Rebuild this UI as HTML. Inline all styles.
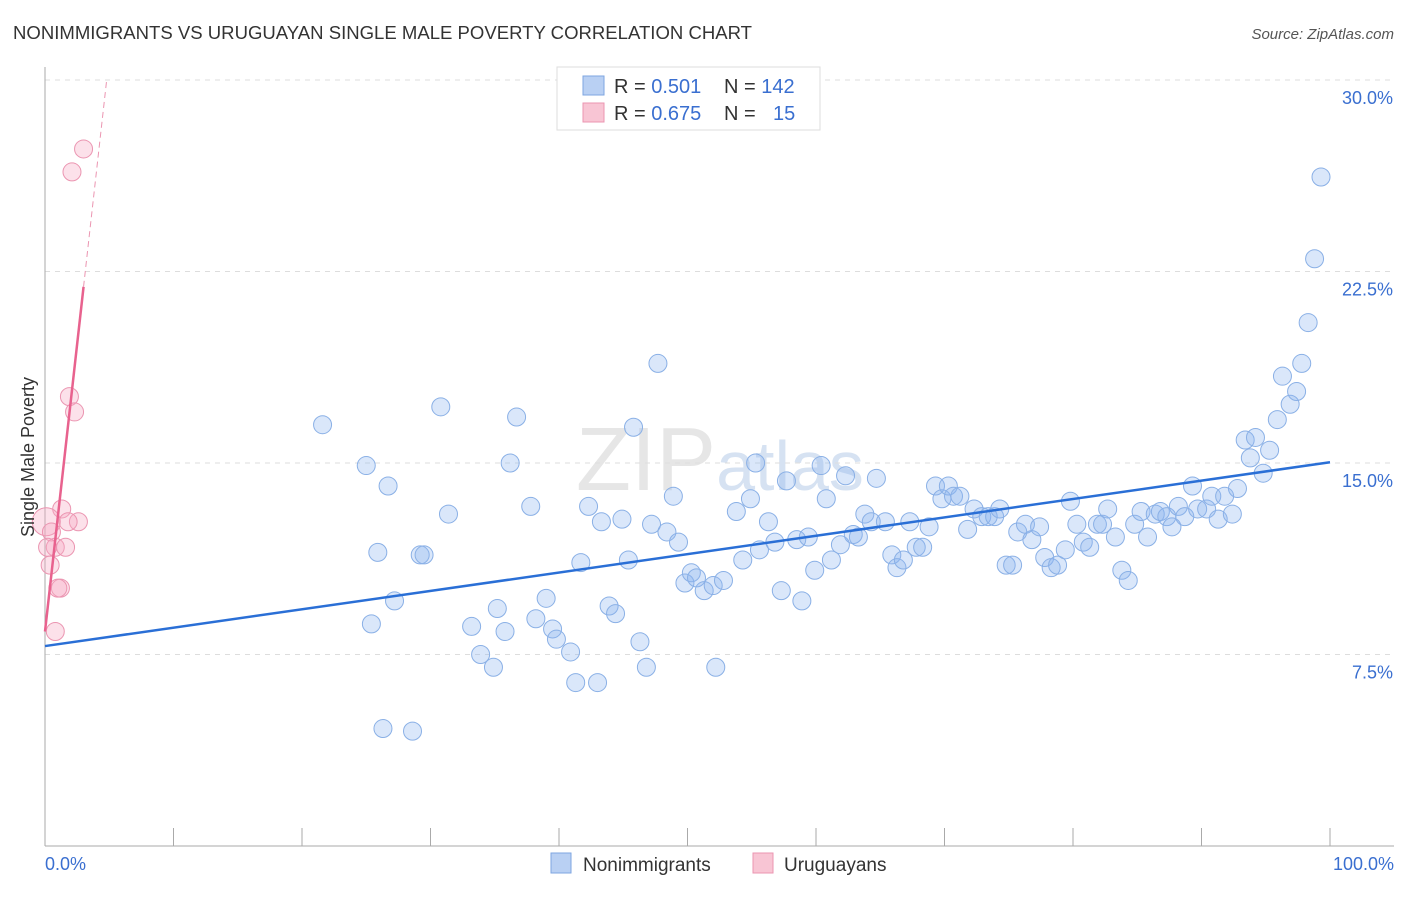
<!DOCTYPE html>
<html><head><meta charset="utf-8"><style>
body{margin:0;background:#fff;font-family:"Liberation Sans",sans-serif;}
svg text{font-family:"Liberation Sans",sans-serif;}
</style></head><body>
<svg id="chart" width="1406" height="892" xmlns="http://www.w3.org/2000/svg">
<text x="13" y="39" font-size="18" fill="#333" textLength="739" lengthAdjust="spacingAndGlyphs">NONIMMIGRANTS VS URUGUAYAN SINGLE MALE POVERTY CORRELATION CHART</text>
<text x="1394" y="39" font-size="15" fill="#555" text-anchor="end" font-style="italic">Source: ZipAtlas.com</text>
<text x="720" y="490" font-size="90" fill="#e6e6e6" font-family="Liberation Serif" text-anchor="middle">ZIP<tspan font-size="70" fill="#d6e2f2" font-family="Liberation Sans">atlas</tspan></text>
<g id="grid"></g><g id="axes"></g><g id="marks"></g>
<text transform="translate(34,457) rotate(-90)" font-size="18" fill="#333" text-anchor="middle">Single Male Poverty</text>
<text x="45" y="870" font-size="18" fill="#3a6fd0">0.0%</text>
<text x="1394" y="870" font-size="18" fill="#3a6fd0" text-anchor="end">100.0%</text>
<g>
<rect x="557" y="67" width="263" height="63" fill="#fff" stroke="#ddd"/>
<rect x="583" y="76" width="21" height="19" fill="#b9d0f3" stroke="#7ea6e0"/>
<rect x="583" y="103" width="21" height="19" fill="#f8c5d4" stroke="#eb95b1"/>
<text x="614" y="93" font-size="20" fill="#333">R = <tspan fill="#3a6fd0">0.501</tspan><tspan x="724">N = </tspan><tspan fill="#3a6fd0">142</tspan></text>
<text x="614" y="120" font-size="20" fill="#333">R = <tspan fill="#3a6fd0">0.675</tspan><tspan x="724">N = </tspan><tspan x="773" fill="#3a6fd0">15</tspan></text>
</g>
<g>
<rect x="551" y="853" width="20" height="20" fill="#b9d0f3" stroke="#7ea6e0"/>
<text x="583" y="871" font-size="19" fill="#333">Nonimmigrants</text>
<rect x="753" y="853" width="20" height="20" fill="#f8c5d4" stroke="#eb95b1"/>
<text x="784" y="871" font-size="19" fill="#333">Uruguayans</text>
</g>
</svg>
<script>
const yTicks=[7.5,15,22.5,30];
const yTickLabels=["7.5%","15.0%","22.5%","30.0%"];
const blueX=[21.6,25.0,25.9,26.7,25.4,26.3,28.6,27.2,29.2,29.5,30.8,31.4,33.2,33.9,34.9,35.2,35.8,36.2,36.7,37.8,38.2,39.0,39.5,39.8,40.9,41.3,41.7,42.3,43.0,43.3,43.9,44.4,44.9,45.4,45.8,46.3,46.8,47.2,47.7,48.4,48.9,49.3,49.8,50.3,50.7,51.3,52.0,52.2,52.8,53.8,54.3,54.9,55.3,55.6,56.3,56.8,57.3,57.7,58.5,58.9,59.4,59.9,60.4,60.8,61.2,61.9,62.3,62.9,63.3,63.8,64.3,64.7,65.4,65.9,66.3,66.8,67.3,67.8,68.3,68.8,69.3,69.8,70.3,70.7,71.2,71.8,72.3,72.9,73.4,73.9,74.3,74.8,75.3,75.7,76.3,76.8,77.4,77.8,78.3,78.8,79.4,79.8,80.3,80.8,81.3,81.9,82.3,82.7,83.3,83.8,84.3,84.8,85.3,85.8,86.4,86.8,87.3,87.7,88.2,88.7,89.3,89.7,90.4,90.8,91.3,91.8,92.4,92.8,93.4,93.8,94.2,94.8,95.3,95.9,96.3,96.9,97.4,97.8,98.3,98.8,99.3];
const blueY=[16.5,14.9,11.5,14.1,8.7,4.6,4.5,9.6,11.4,11.4,17.2,13.0,8.6,7.5,7.0,9.3,8.4,15.0,16.8,13.3,8.9,9.7,8.5,8.1,7.6,6.4,11.1,13.3,6.4,12.7,9.4,9.1,12.8,11.2,16.4,8.0,7.0,12.6,18.9,12.3,13.7,11.9,10.3,10.7,10.5,10.0,10.2,7.0,10.4,13.1,11.2,13.6,15.0,11.6,12.7,11.9,10.0,14.3,12.0,9.6,12.1,10.8,14.9,13.6,11.2,11.8,14.5,12.2,12.1,13.0,12.7,14.4,12.7,11.4,10.9,11.2,12.7,11.7,11.7,12.5,14.1,13.6,14.1,13.7,13.7,12.4,13.2,12.9,12.9,12.9,13.2,11.0,11.0,12.3,12.6,12.0,12.5,11.3,10.9,11.0,11.6,13.5,12.6,11.9,11.7,12.6,12.6,13.2,12.1,10.8,10.4,12.6,13.1,12.1,13.0,13.1,12.9,12.5,13.3,12.9,14.1,13.2,13.2,13.7,12.8,13.7,13.0,14.0,15.9,15.2,16.0,14.6,15.5,16.7,18.4,17.3,17.8,18.9,20.5,23.0,26.2];
const pinkX=[3.0,2.1,1.9,2.3,1.3,2.6,1.8,0.1,0.5,0.8,1.6,0.2,0.4,1.2,1.0,0.8];
const pinkY=[27.3,26.4,17.6,17.0,13.2,12.7,12.7,12.7,12.3,11.7,11.7,11.7,11.0,10.1,10.1,8.4];
const blueTrend=[7.83,15.03];
const pinkTrend=[8.4,21.9];
const pinkTrendEndX=3.0;
const X0=45,X1=1330,YB=846,PX=(X1-X0)/100,PY=191.5/7.5;
const sx=v=>X0+v*PX, sy=v=>YB-v*PY;
const NS="http://www.w3.org/2000/svg";
function mk(p,t,a){const e=document.createElementNS(NS,t);for(const k in a)e.setAttribute(k,a[k]);document.getElementById(p).appendChild(e);return e;}
yTicks.forEach((t,i)=>{
 const g=mk('grid','line',{x1:X0,x2:1394,y1:sy(t),y2:sy(t),stroke:'#ddd','stroke-dasharray':'5,5'});
 
 
 const l=mk('grid','text',{x:1393,y:sy(t)+24,'text-anchor':'end','font-size':18,fill:'#3a6fd0'});
 l.textContent=yTickLabels[i];
 
 
});
const ax=mk('axes','line',{x1:X0,x2:X0,y1:67,y2:YB,stroke:'#aaa'});


const bx=mk('axes','line',{x1:X0,x2:1394,y1:YB,y2:YB,stroke:'#aaa'});


for(let i=1;i<=10;i++){const t=mk('axes','line',{x1:sx(i*10),x2:sx(i*10),y1:828,y2:YB,stroke:'#aaa'});
 
 }
blueX.forEach((x,i)=>{const c=mk('marks','circle',{cx:sx(x),cy:sy(blueY[i]),r:9,fill:'rgba(140,180,240,0.32)',stroke:'#8ab0e6','stroke-width':1});
 
 });
pinkX.forEach((x,i)=>{const c=mk('marks','circle',{cx:sx(x),cy:sy(pinkY[i]),r:i==7?14:9,fill:'rgba(245,170,195,0.35)',stroke:'#eb95b1','stroke-width':1});
 
 });
const bl=mk('marks','line',{x1:sx(0),y1:sy(blueTrend[0]),x2:sx(100),y2:sy(blueTrend[1]),stroke:'#2a6fd6','stroke-width':2.5});


const slope=(pinkTrend[1]-pinkTrend[0])/pinkTrendEndX, xEnd=(30-pinkTrend[0])/slope;
const pl=mk('marks','line',{x1:sx(0),y1:sy(pinkTrend[0]),x2:sx(pinkTrendEndX),y2:sy(pinkTrend[1]),stroke:'#e8628e','stroke-width':2.5});


const pd=mk('marks','line',{x1:sx(pinkTrendEndX),y1:sy(pinkTrend[1]),x2:sx(xEnd),y2:sy(30),stroke:'#eb95b1','stroke-width':1,'stroke-dasharray':'6,4'});


</script>
</body></html>
